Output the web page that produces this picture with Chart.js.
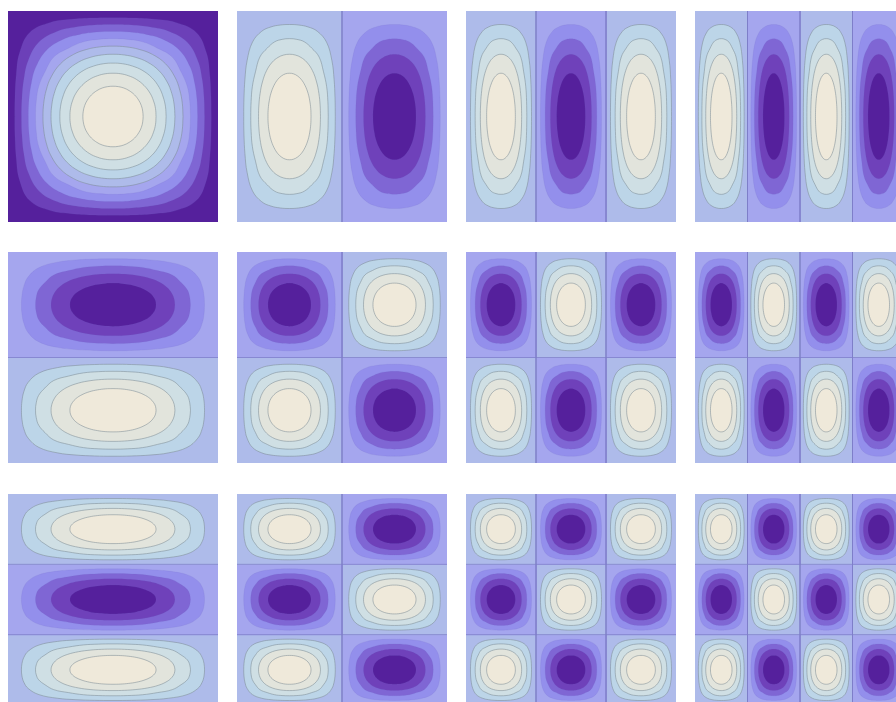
<!DOCTYPE html>
<html>
<head>
<meta charset="utf-8">
<title>Contour grid</title>
<script src="https://cdn.jsdelivr.net/npm/chart.js@4"></script>
<style>
  html, body { margin: 0; padding: 0; background: #fff; overflow: hidden; width: 896px; height: 702px; }
  #grid { position: relative; width: 896px; height: 702px; overflow: hidden; }
  #grid canvas { position: absolute; filter: blur(0.6px); }
</style>
</head>
<body>
<div id="grid"></div>
<script>
// Sign of each cell in each panel, row by row (+1 light lobe, -1 dark lobe)
const panelCells = [
  [[[1]], [[1, -1]], [[1, -1, 1]], [[1, -1, 1, -1]]],
  [[[-1], [1]], [[-1, 1], [1, -1]], [[-1, 1, -1], [1, -1, 1]], [[-1, 1, -1, 1], [1, -1, 1, -1]]],
  [[[1], [-1], [1]], [[1, -1], [-1, 1], [1, -1]], [[1, -1, 1], [-1, 1, -1], [1, -1, 1]], [[1, -1, 1, -1], [-1, 1, -1, 1], [1, -1, 1, -1]]]
];

// Contour levels, and one eighth of each contour
// (distance from the cell centre, 1 = cell edge)
const lobeLevels = [0.8, 0.6, 0.4, 0.2];
const fullLevels = [0.9, 0.8, 0.7, 0.6, 0.5, 0.4, 0.3, 0.2, 0.1];
const contours = {
  0.9: [[0.287, 0], [0.283, 0.051], [0.270, 0.103], [0.245, 0.154], [0.205, 0.205]],
  0.8: [[0.410, 0], [0.405, 0.074], [0.386, 0.148], [0.353, 0.221], [0.295, 0.295]],
  0.7: [[0.506, 0], [0.500, 0.092], [0.478, 0.185], [0.439, 0.277], [0.369, 0.369]],
  0.6: [[0.590, 0], [0.583, 0.109], [0.560, 0.218], [0.516, 0.327], [0.436, 0.436]],
  0.5: [[0.667, 0], [0.660, 0.125], [0.636, 0.250], [0.589, 0.375], [0.500, 0.500]],
  0.4: [[0.738, 0], [0.731, 0.141], [0.708, 0.282], [0.648, 0.423], [0.564, 0.564]],
  0.3: [[0.806, 0], [0.800, 0.158], [0.778, 0.316], [0.733, 0.473], [0.631, 0.631]],
  0.2: [[0.872, 0], [0.867, 0.176], [0.849, 0.353], [0.808, 0.529], [0.705, 0.705]],
  0.1: [[0.936, 0], [0.933, 0.199], [0.921, 0.398], [0.892, 0.596], [0.795, 0.795]]
};

// Colours, innermost band first
const lightBands = ['#efe9da', '#e2e4dc', '#cfdfe4', '#bcd5e8'];
const lightBack = '#aebbea';
const darkBands = ['#55209c', '#6f41ba', '#7f66d4', '#938fec'];
const darkBack = '#a5a6ee';
const fullBands = ['#efe9da', '#e2e4dc', '#cfdfe4', '#bcd5e8', '#aebbea', '#a5a6ee', '#938fec', '#7f66d4', '#6c40b8'];
const fullBack = '#55209c';

const panelLeft = [8, 237, 466, 695];
const panelTop = [11, 252, 494];
const panelWidth = 210;
const panelHeight = 211;

// Mirror the eighth into a closed ring around the cell centre
function ringPoints(level, col, row) {
  const eighth = contours[level];
  const quarter = eighth.concat(eighth.slice(0, -1).reverse().map(p => [p[1], p[0]]));
  const signs = [[1, 1], [-1, 1], [-1, -1], [1, -1]];
  const points = [];
  signs.forEach((s, q) => {
    const part = q % 2 === 0 ? quarter : quarter.slice().reverse();
    part.slice(0, -1).forEach(p => {
      points.push({ x: col + 0.5 + s[0] * p[0] * 0.5, y: row + 0.5 + s[1] * p[1] * 0.5 });
    });
  });
  points.push(points[0]);
  return points;
}

function cellBox(col, row) {
  return [
    { x: col, y: row }, { x: col + 1, y: row },
    { x: col + 1, y: row + 1 }, { x: col, y: row + 1 }, { x: col, y: row }
  ];
}

function ringDataset(points, fillColor, lineColor, tension) {
  return {
    data: points,
    showLine: true,
    fill: 'shape',
    backgroundColor: fillColor,
    borderColor: lineColor,
    borderWidth: 1,
    tension: tension,
    pointRadius: 0
  };
}

// Lines between cells, where the surface crosses zero
function nodalDatasets(cols, rows) {
  const sets = [];
  const addLine = (data) => sets.push({
    data,
    showLine: true,
    fill: false,
    borderColor: 'rgba(125,125,200,0.75)',
    borderWidth: 1,
    pointRadius: 0
  });
  for (let c = 1; c < cols; c++) addLine([{ x: c, y: 0 }, { x: c, y: rows }]);
  for (let r = 1; r < rows; r++) addLine([{ x: 0, y: r }, { x: cols, y: r }]);
  return sets;
}

// Chart.js paints the first dataset last, so inner rings go first
function cellDatasets(sign, col, row, isFull) {
  const levels = isFull ? fullLevels : lobeLevels;
  const bands = isFull ? fullBands : (sign > 0 ? lightBands : darkBands);
  const back = isFull ? fullBack : (sign > 0 ? lightBack : darkBack);
  const sets = levels.map((level, i) => {
    let line = 'rgba(125,140,150,0.55)';
    if (sign < 0) line = 'rgba(110,100,190,0.12)';
    if (isFull && i > 4) line = 'rgba(110,100,190,0.12)';
    return ringDataset(ringPoints(level, col, row), bands[i], line, 0.4);
  });
  sets.push(ringDataset(cellBox(col, row), back, back, 0));
  return sets;
}

const grid = document.getElementById('grid');
panelCells.forEach((rowPanels, r) => {
  rowPanels.forEach((cells, c) => {
    const canvas = document.createElement('canvas');
    canvas.width = panelWidth;
    canvas.height = panelHeight;
    canvas.style.left = panelLeft[c] + 'px';
    canvas.style.top = panelTop[r] + 'px';
    canvas.style.width = panelWidth + 'px';
    canvas.style.height = panelHeight + 'px';
    grid.appendChild(canvas);

    const isFull = r === 0 && c === 0;
    const datasets = nodalDatasets(cells[0].length, cells.length);
    cells.forEach((cellRow, row) => {
      cellRow.forEach((sign, col) => {
        datasets.push(...cellDatasets(sign, col, row, isFull));
      });
    });

    new Chart(canvas.getContext('2d'), {
      type: 'scatter',
      data: { datasets },
      options: {
        responsive: false,
        animation: false,
        events: [],
        layout: { padding: 0 },
        plugins: { legend: { display: false }, tooltip: { enabled: false } },
        scales: {
          x: { type: 'linear', display: false, min: 0, max: cells[0].length },
          y: { type: 'linear', display: false, min: 0, max: cells.length, reverse: true }
        }
      }
    });
  });
});
</script>
</body>
</html>
